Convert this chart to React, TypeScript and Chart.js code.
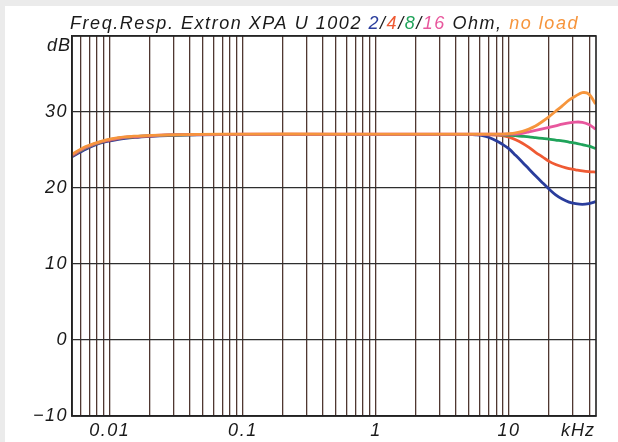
import React, { useEffect, useRef } from "react";
import { Chart, registerables } from "chart.js";

Chart.register(...registerables);

// Frequency in kHz
const FREQ_KHZ = [
  0.0052, 0.0066, 0.0087, 0.0116, 0.0154, 0.0205, 0.0273, 0.046, 0.1, 0.5, 2, 4,
  5.01, 5.62, 6.31, 7.08, 7.94, 8.91, 10, 11.2, 12.6, 14.1, 15.8, 17.8, 20, 22.4, 25.1, 28.2, 31.6, 35.5, 39.8, 44.7,
];

const DB_2_OHM = [
  24.1, 25.1, 25.95, 26.4, 26.65, 26.8, 26.9, 27.0, 27.05, 27.05, 27.05, 27.05,
  27.05, 27.0, 26.9, 26.65, 26.25, 25.75, 25.15, 24.3, 23.4, 22.5, 21.6, 20.7, 19.85, 19.1, 18.55, 18.15, 17.95, 17.85, 17.95, 18.2,
];
const DB_4_OHM = [
  24.25, 25.25, 26.05, 26.5, 26.72, 26.85, 26.95, 27.02, 27.05, 27.05, 27.05, 27.05,
  27.05, 27.05, 27.03, 27.0, 26.97, 26.9, 26.7, 26.35, 25.9, 25.35, 24.7, 24.1, 23.5, 23.1, 22.8, 22.55, 22.4, 22.25, 22.15, 22.1,
];
const DB_8_OHM = [
  24.3, 25.3, 26.1, 26.55, 26.75, 26.88, 26.97, 27.03, 27.05, 27.05, 27.05, 27.05,
  27.05, 27.05, 27.05, 27.05, 27.03, 27.0, 26.95, 26.88, 26.8, 26.72, 26.62, 26.52, 26.42, 26.3, 26.2, 26.05, 25.9, 25.7, 25.5, 25.2,
];
const DB_16_OHM = [
  24.35, 25.35, 26.12, 26.57, 26.77, 26.9, 26.98, 27.04, 27.07, 27.07, 27.07, 27.07,
  27.07, 27.07, 27.07, 27.07, 27.07, 27.07, 27.08, 27.1, 27.2, 27.38, 27.58, 27.78, 27.98, 28.18, 28.4, 28.58, 28.68, 28.65, 28.35, 27.75,
];
const DB_NO_LOAD = [
  24.45, 25.45, 26.18, 26.62, 26.82, 26.93, 27.0, 27.06, 27.1, 27.1, 27.1, 27.1,
  27.1, 27.1, 27.1, 27.1, 27.1, 27.1, 27.15, 27.25, 27.45, 27.75, 28.15, 28.75, 29.4, 30.1, 30.8, 31.55, 32.1, 32.55, 32.35, 31.05,
];

const X_LABEL_VALUES = [0.01, 0.1, 1, 10];
const X_TICK_LABELS = ["0.01", "0.1", "1", "10"];
const Y_MIN = -10;
const Y_MAX = 40;
const Y_STEP = 10;
const X_MIN = 0.0052;
const X_MAX = 45;

const BLUE = "#2a3d9c";
const RED = "#ef5a33";
const GREEN = "#1fa35a";
const PINK = "#e8579d";
const ORANGE = "#f6953c";
const INK = "#1a1a1a";
const GRID_X = "#4f3731";
const GRID_Y = "#2e2e2e";

const TITLE_PARTS: [string, string][] = [
  ["Freq.Resp. Extron XPA U 1002 ", INK],
  ["2", BLUE],
  ["/", INK],
  ["4", RED],
  ["/", INK],
  ["8", GREEN],
  ["/", INK],
  ["16", PINK],
  [" Ohm, ", INK],
  ["no load", ORANGE],
];

const FONT_FAMILY = '"Liberation Sans", Arial, sans-serif';

function gridValues(min: number, max: number): number[] {
  const out: number[] = [];
  for (let k = -3; k <= 2; k++) {
    for (let m = 1; m <= 9; m++) {
      const v = parseFloat((m * Math.pow(10, k)).toPrecision(6));
      if (v >= min && v <= max) out.push(v);
    }
  }
  return out;
}

const decorPlugin = {
  id: "decor",
  beforeDraw(chart: any) {
    const ctx = chart.ctx as CanvasRenderingContext2D;
    ctx.save();
    ctx.fillStyle = "#ebebeb";
    ctx.fillRect(0, 0, chart.width, chart.height);
    ctx.fillStyle = "#ffffff";
    ctx.fillRect(5, 6, chart.width, chart.height);
    ctx.restore();
    (ctx as any).letterSpacing = "1.5px";
  },
  afterDraw(chart: any) {
    const ctx = chart.ctx as CanvasRenderingContext2D;
    const a = chart.chartArea;
    ctx.save();
    ctx.strokeStyle = "#222";
    ctx.lineWidth = 1.6;
    ctx.strokeRect(a.left, a.top, a.right - a.left, a.bottom - a.top);

    // Title
    ctx.font = `italic 18px ${FONT_FAMILY}`;
    ctx.textBaseline = "alphabetic";
    ctx.textAlign = "left";
    (ctx as any).letterSpacing = "0px";
    const full = TITLE_PARTS.map((p) => p[0]).join("");
    const w0 = ctx.measureText(full).width;
    const sp = (509 - w0) / full.length;
    (ctx as any).letterSpacing = `${sp}px`;
    let x = 70;
    for (const [t, c] of TITLE_PARTS) {
      ctx.fillStyle = c;
      ctx.fillText(t, x, 29);
      x += ctx.measureText(t).width;
    }

    // axis unit labels
    (ctx as any).letterSpacing = "1px";
    ctx.fillStyle = INK;
    ctx.font = `italic 18px ${FONT_FAMILY}`;
    ctx.textAlign = "right";
    ctx.textBaseline = "middle";
    ctx.fillText("dB", a.left - 1, 46);
    const xs = chart.scales.x;
    ctx.textAlign = "center";
    ctx.fillText("kHz", xs.getPixelForValue(33), 431);
    ctx.restore();
  },
};

export default function App() {
  const ref = useRef<HTMLCanvasElement | null>(null);

  useEffect(() => {
    if (!ref.current) return;
    const mk = (label: string, data: number[], color: string, order: number) => ({
      label,
      data: FREQ_KHZ.map((f, i) => ({ x: f, y: data[i] })),
      borderColor: color,
      backgroundColor: color,
      borderWidth: 2.8,
      pointRadius: 0,
      tension: 0.3,
      fill: false,
      order,
    });
    const tickFont = { family: FONT_FAMILY, size: 18, style: "italic" as const };
    const chart = new Chart(ref.current, {
      type: "line",
      data: {
        datasets: [
          mk("2 Ohm", DB_2_OHM, BLUE, 4),
          mk("4 Ohm", DB_4_OHM, RED, 3),
          mk("8 Ohm", DB_8_OHM, GREEN, 2),
          mk("16 Ohm", DB_16_OHM, PINK, 1),
          mk("no load", DB_NO_LOAD, ORANGE, 0),
        ],
      },
      options: {
        animation: false,
        responsive: false,
        events: [],
        layout: { padding: { top: 36, right: 22, left: 0, bottom: 0 } },
        plugins: { legend: { display: false }, tooltip: { enabled: false }, title: { display: false } },
        scales: {
          x: {
            type: "logarithmic",
            min: X_MIN,
            max: X_MAX,
            afterBuildTicks: (scale: any) => {
              scale.ticks = gridValues(X_MIN, X_MAX).map((v) => ({ value: v }));
            },
            afterFit: (scale: any) => {
              scale.height = 26;
            },
            ticks: {
              autoSkip: false,
              maxRotation: 0,
              minRotation: 0,
              padding: 4,
              color: INK,
              font: tickFont,
              callback: (v: any) => {
                const val = Number(v);
                const idx = X_LABEL_VALUES.findIndex((t) => Math.abs(t - val) / t < 1e-6);
                return idx >= 0 ? X_TICK_LABELS[idx] : "";
              },
            },
            grid: { color: GRID_X, lineWidth: 1.3, drawTicks: false },
            border: { display: true, color: "#222", width: 1.6 },
          },
          y: {
            type: "linear",
            min: Y_MIN,
            max: Y_MAX,
            afterFit: (scale: any) => {
              scale.width = 72;
            },
            ticks: {
              stepSize: Y_STEP,
              padding: 4,
              color: INK,
              font: tickFont,
              callback: (v: any) => {
                const n = Number(v);
                if (n === Y_MAX) return "";
                return n < 0 ? "\u2212" + Math.abs(n) : String(n);
              },
            },
            grid: { color: GRID_Y, lineWidth: 1.3, drawTicks: false },
            border: { display: true, color: "#222", width: 1.6 },
          },
        },
      },
      plugins: [decorPlugin],
    });
    return () => chart.destroy();
  }, []);

  return (
    <div style={{ position: "fixed", left: 0, top: 0, width: 618, height: 442, background: "#fff" }}>
      <canvas ref={ref} width={618} height={442} style={{ display: "block", width: 618, height: 442 }} />
    </div>
  );
}
